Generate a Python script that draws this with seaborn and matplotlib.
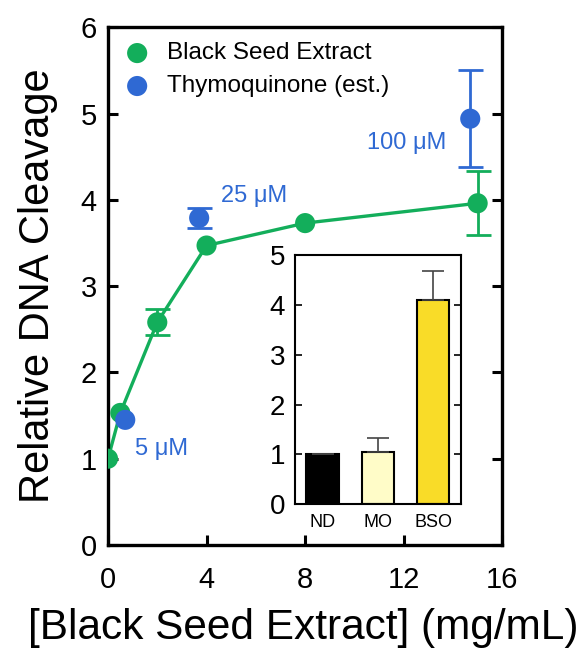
import numpy as np
import pandas as pd
import matplotlib
matplotlib.use("Agg")
import matplotlib.pyplot as plt
import seaborn as sns

# main panel data
bse_conc = [0, 0.5, 2, 4, 8, 15]
bse_cleavage = [1.0, 1.53, 2.58, 3.47, 3.73, 3.96]
bse_err = [0, 0, 0.15, 0, 0, 0.37]

tq_conc = [0.7, 3.7, 14.7]
tq_cleavage = [1.45, 3.79, 4.94]
tq_err = [0, 0.12, 0.56]
tq_labels = ["5 \u03bcM", "25 \u03bcM", "100 \u03bcM"]

# inset data
groups = ["ND", "MO", "BSO"]
group_vals = [1.0, 1.04, 4.1]
group_err = [0, 0.29, 0.58]
group_colors = ["#000000", "#FFFCC8", "#F9DC28"]

green = "#13AE5B"
blue = "#2F69D3"

sns.set_style("ticks")
plt.rcParams["font.family"] = ["Liberation Sans", "DejaVu Sans"]
plt.rcParams.update({"text.color": "black", "axes.labelcolor": "black",
                     "xtick.color": "black", "ytick.color": "black",
                     "axes.edgecolor": "black"})

fig = plt.figure(figsize=(5.85, 6.48), dpi=100)
ax = fig.add_axes([0.1846, 0.159, 0.674, 0.799])

df_bse = pd.DataFrame({"conc": bse_conc, "val": bse_cleavage, "err": bse_err})
df_tq = pd.DataFrame({"conc": tq_conc, "val": tq_cleavage, "err": tq_err})

sns.lineplot(data=df_bse, x="conc", y="val", color=green, lw=2.4, ax=ax, zorder=2)
for d, c in [(df_bse, green), (df_tq, blue)]:
    e = d[d["err"] > 0]
    ax.errorbar(e["conc"], e["val"], yerr=e["err"], fmt="none", ecolor=c,
                elinewidth=2, capsize=9, capthick=2, zorder=2)
sns.scatterplot(data=df_bse, x="conc", y="val", color=green, s=210, edgecolor="none",
                ax=ax, zorder=3, label="Black Seed Extract")
sns.scatterplot(data=df_tq, x="conc", y="val", color=blue, s=210, edgecolor="none",
                ax=ax, zorder=4, label="Thymoquinone (est.)")

label_offsets = [(0.38, -0.41), (0.87, 0.18), (-4.2, -0.35)]
for xv, yv, t, (dx, dy) in zip(tq_conc, tq_cleavage, tq_labels, label_offsets):
    ax.text(xv + dx, yv + dy, t, color=blue, fontsize=17, ha="left", va="baseline")

ax.set_xlim(0, 16)
ax.set_ylim(0, 6)
ax.set_xticks([0, 4, 8, 12, 16])
ax.set_yticks(range(7))
ax.set_xlabel("[Black Seed Extract] (mg/mL)", fontsize=30.5, labelpad=10, x=0.495)
ax.set_ylabel("Relative DNA Cleavage", fontsize=30, labelpad=16)
ax.tick_params(direction="in", length=7, width=2.2, labelsize=21, right=True)
ax.tick_params(axis="x", pad=15)
ax.tick_params(axis="y", pad=8)
for sp in ax.spines.values():
    sp.set_visible(True)
    sp.set_linewidth(2.4)

leg = ax.legend(loc="upper left", bbox_to_anchor=(0, 0.98), frameon=False,
                fontsize=17.5, handletextpad=0.22, borderaxespad=0,
                labelspacing=0.45, borderpad=0.2)

# inset
ins = fig.add_axes([0.504, 0.222, 0.284, 0.384])
df_grp = pd.DataFrame({"group": groups, "val": group_vals})
sns.barplot(data=df_grp, x="group", y="val", hue="group", palette=group_colors,
            saturation=1, edgecolor="black", linewidth=1.5, width=0.58,
            legend=False, ax=ins)
ins.errorbar(range(3), group_vals, yerr=[np.zeros(3), group_err], fmt="none",
             ecolor="#444444", elinewidth=1.2, capsize=8, capthick=1.2)
ins.set_ylim(0, 5)
ins.set_xlim(-0.5, 2.5)
ins.set_yticks(range(6))
ins.set_xlabel("")
ins.set_ylabel("")
ins.tick_params(axis="y", direction="in", length=5, width=1.2, labelsize=20, right=True, pad=7)
ins.tick_params(axis="x", length=0, labelsize=13, pad=7)
for sp in ins.spines.values():
    sp.set_visible(True)
    sp.set_linewidth(1.5)

fig.savefig("out.png", dpi=100)
